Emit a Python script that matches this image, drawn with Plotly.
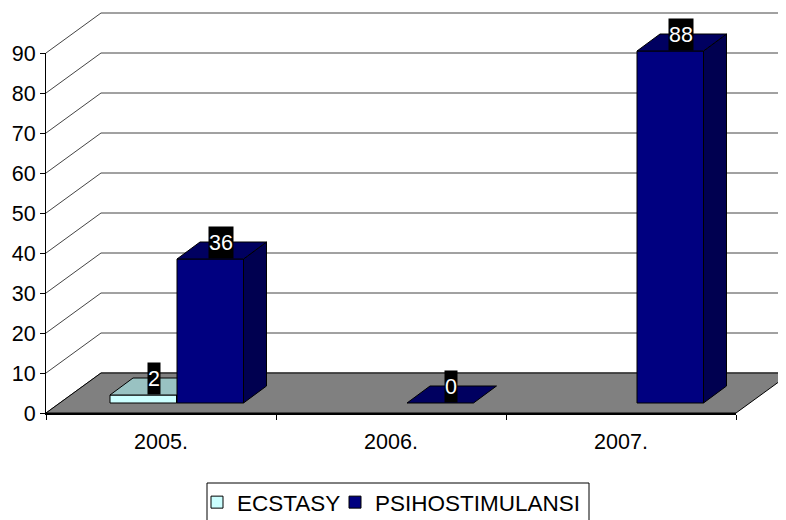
import plotly.graph_objects as go

categories = ['2005.', '2006.', '2007.']
ecstasy = [2, None, None]
psihostimulansi = [36, 0, 88]
y_ticks = [0, 10, 20, 30, 40, 50, 60, 70, 80, 90]

FONT = 'Liberation Sans'
FONT_SIZE = 21.5

W, H = 786, 520
# the page has an 8px body margin, so everything is placed 8px up and left
PLOT_L, PLOT_R = 38, 728
PLOT_T, PLOT_B = 45, 405
PX_X = (PLOT_R - PLOT_L) / len(categories)
PX_Y = (PLOT_B - PLOT_T) / 90

# fake 3d: how far the back wall and the bar tops are pushed, in axis units
WALL_DX, WALL_DY = 55 / PX_X, 40 / PX_Y
BAR_DX, BAR_DY = 23 / PX_X, 17 / PX_Y
BAR_LIFT = 10 / PX_Y
BAR_W = 66.5 / PX_X
ECSTASY_OFF, PSI_OFF = 64 / PX_X, 131 / PX_X
LABEL_DX = 10.5 / PX_X

fig = go.Figure()


def poly(xs, ys, fill, line='black', width=1):
    fig.add_trace(go.Scatter(x=xs, y=ys, mode='lines', fill='toself', fillcolor=fill,
                             line=dict(color=line, width=width), showlegend=False,
                             hoverinfo='skip'))


def seg(xs, ys, color='#444444', width=1):
    fig.add_trace(go.Scatter(x=xs, y=ys, mode='lines', line=dict(color=color, width=width),
                             showlegend=False, hoverinfo='skip'))


def bar3d(x0, value, front, top, side):
    x1 = x0 + BAR_W
    y0 = BAR_LIFT
    y1 = BAR_LIFT + value
    if value > 0:
        poly([x1, x1 + BAR_DX, x1 + BAR_DX, x1, x1], [y0, y0 + BAR_DY, y1 + BAR_DY, y1, y0], side)
        poly([x0, x1, x1, x0, x0], [y0, y0, y1, y1, y0], front)
    poly([x0, x1, x1 + BAR_DX, x0 + BAR_DX, x0], [y1, y1, y1 + BAR_DY, y1 + BAR_DY, y1], top)


n = len(categories)

# walls
for v in y_ticks:
    seg([0, WALL_DX, n + WALL_DX], [v, v + WALL_DY, v + WALL_DY])

# floor
poly([0, n, n + WALL_DX, WALL_DX, 0], [0, 0, WALL_DY, WALL_DY, 0], '#808080')

annotations = []
for i, cat in enumerate(categories):
    for off, vals, front, top, side in [
        (ECSTASY_OFF, ecstasy, '#CCFFFF', '#99C2C2', '#80A0A0'),
        (PSI_OFF, psihostimulansi, '#000080', '#000060', '#000050'),
    ]:
        val = vals[i]
        if val is None:
            continue
        bar3d(i + off, val, front, top, side)
        annotations.append(dict(x=i + off + BAR_W / 2 + LABEL_DX, y=val + BAR_LIFT, text=str(val),
                                xanchor='center', yanchor='bottom', showarrow=False, height=31,
                                bgcolor='black', borderpad=0, valign='middle',
                                font=dict(family=FONT, size=FONT_SIZE, color='white')))

# legend entries only, they also keep the tick axes alive
for name, color, leg in [('ECSTASY', '#CCFFFF', 'legend'), ('PSIHOSTIMULANSI', '#000080', 'legend2')]:
    fig.add_trace(go.Scatter(x=[None], y=[None], mode='markers', name=name, xaxis='x2', yaxis='y2',
                             legend=leg, showlegend=True,
                             marker=dict(symbol='square', size=12, color=color,
                                         line=dict(color='black', width=1))))

fig.update_layout(
    width=W, height=H,
    margin=dict(l=0, r=0, t=0, b=0, autoexpand=False),
    paper_bgcolor='white', plot_bgcolor='rgba(0,0,0,0)',
    font=dict(family=FONT, size=FONT_SIZE, color='black'),
    annotations=annotations,
    # full-page axes for the drawn faces, same scale as the tick axes
    xaxis=dict(domain=[0, 1], range=[-PLOT_L / PX_X, (W - PLOT_L) / PX_X], visible=False),
    yaxis=dict(domain=[0, 1], range=[-(H - PLOT_B) / PX_Y, PLOT_B / PX_Y], visible=False),
    xaxis2=dict(domain=[PLOT_L / W, PLOT_R / W], anchor='y2', range=[0, n], tickmode='array',
                tickvals=[i + 0.5 for i in range(n)], ticktext=categories, ticks='',
                showgrid=False, zeroline=False, showline=True, linecolor='black', linewidth=2,
                ticklabelstandoff=8,
                minor=dict(tickmode='array', tickvals=list(range(n + 1)), ticks='outside',
                           ticklen=5, tickcolor='black', showgrid=False)),
    yaxis2=dict(domain=[1 - PLOT_B / H, 1 - PLOT_T / H], anchor='x2', range=[0, 90], tickmode='array',
                tickvals=y_ticks, ticks='outside', ticklen=5, tickcolor='black', showgrid=False,
                zeroline=False, showline=True, linecolor='black', linewidth=1),
    # one legend per entry so the two can be spaced like the original
    legend=dict(orientation='h', x=(197 - 8) / W, y=1 - (481 - 8) / H, xanchor='left', yanchor='top',
                borderwidth=0, bgcolor='rgba(0,0,0,0)', font=dict(family=FONT, size=22.5)),
    legend2=dict(orientation='h', x=(335 - 8) / W, y=1 - (481 - 8) / H, xanchor='left', yanchor='top',
                 borderwidth=0, bgcolor='rgba(0,0,0,0)', font=dict(family=FONT, size=22.5)),
    shapes=[dict(type='rect', xref='paper', yref='paper', x0=(207 - 8) / W, x1=(589 - 8) / W,
                 y0=1 - (524 - 8) / H, y1=1 - (483 - 8) / H, line=dict(color='black', width=1))],
)

fig.write_html("out.html")
